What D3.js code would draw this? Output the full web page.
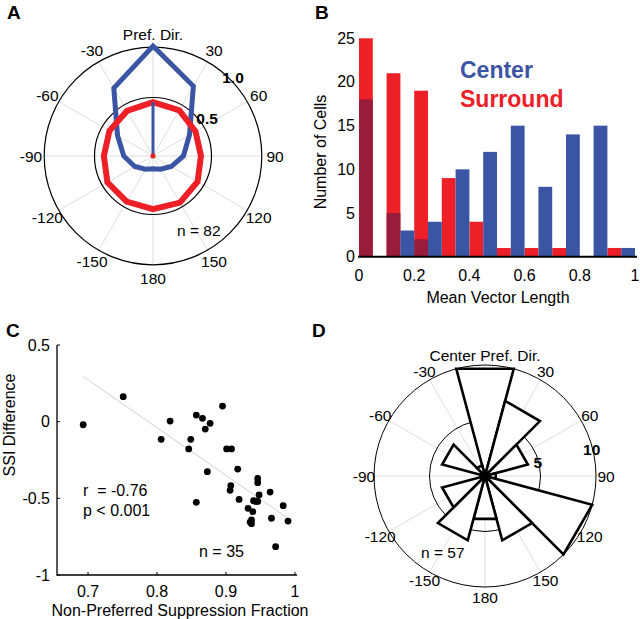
<!DOCTYPE html>
<html><head><meta charset="utf-8">
<script src="https://cdn.jsdelivr.net/npm/d3@7"></script>
<style>
body{margin:0;background:#fff}
text{font-family:"Liberation Sans",Arial,Helvetica,sans-serif;fill:#000}
</style>
</head><body>
<svg id="fig" width="640" height="619"></svg>
<script>
// ---------- Panel A data ----------
const dirAngles = [0,30,60,90,120,150,180,210,240,270,300,330];
const centerTuning   = [0.94,0.69,0.36,0.26,0.18,0.13,0.11,0.13,0.18,0.25,0.35,0.67];
const surroundTuning = [0.46,0.45,0.42,0.41,0.44,0.46,0.455,0.45,0.45,0.42,0.43,0.445];
const centerMeanVector = 0.46;
const surroundMeanVector = 0.02;
const angleLabelsA = ["Pref. Dir.","30","60","90","120","150","180","-150","-120","-90","-60","-30"];
const ringValuesA = [0.5, 0.93];
const ringLabelsA = ["0.5","1.0"];
// ---------- Panel B data ----------
const binStarts = [0,0.1,0.2,0.3,0.4,0.5,0.6,0.7,0.8,0.9];
const surroundCounts = [25,21,19,9,4,1,1,1,0,1];
const centerCounts   = [0,3,4,10,12,15,8,14,15,1];
const overlapCounts  = [18,5,2,0,0,0,0,0,0,0];
const xTicksB = [0,0.2,0.4,0.6,0.8,1];
const yTicksB = [0,5,10,15,20,25];
// ---------- Panel C data ----------
const nonPrefFrac = [0.693,0.751,0.806,0.819,0.846,0.849,0.857,0.866,0.870,0.877,0.895,0.857,0.873,0.901,0.908,0.917,0.907,0.906,0.919,0.932,0.939,0.937,0.937,0.940,0.946,0.946,0.946,0.948,0.964,0.966,0.972,0.983,0.990,0.943,0.935];
const ssiDiff = [-0.02,0.163,-0.115,0.004,-0.178,-0.115,0.043,0.022,-0.048,-0.011,0.102,-0.526,-0.326,-0.178,-0.178,-0.309,-0.417,-0.448,-0.507,-0.565,-0.587,-0.641,-0.665,-0.515,-0.37,-0.398,-0.52,-0.478,-0.459,-0.63,-0.815,-0.548,-0.648,-0.52,-0.655];
const fitX = [0.693,0.99];
const fitY = [0.294,-0.63];
const xTicksC = [0.7,0.8,0.9,1];
const yTicksC = [0.5,0,-0.5,-1];
// ---------- Panel D data ----------
const roseCenters = [0,30,60,90,120,150,180,210,240,270,300,330];
const roseCounts  = [10,7,4,1,10,6,4,6,4,0,4,1];
const angleLabelsD = ["Center Pref. Dir.","30","60","90","120","150","180","-150","-120","-90","-60","-30"];
const ringValuesD = [5,10];
const ringLabelsD = ["5","10"];

const BLUE = "#3b55a5", RED = "#ee2027", DARK = "#9a1c3c", GRID = "#d4d4d4";
const svg = d3.select("#fig");
const rad = d => d*Math.PI/180;
function polarXY(angDeg, r){ return [r*Math.sin(rad(angDeg)), -r*Math.cos(rad(angDeg))]; }

// panel letters
[["A",7,19],["B",315,19],["C",6,337],["D",312,337]].forEach(([t,x,y])=>{
  svg.append("text").attr("x",x).attr("y",y).attr("font-size",19).attr("font-weight","bold").text(t);
});

// ================= Panel A =================
{
  const g = svg.append("g").attr("transform","translate(153,156)");
  const r = d3.scaleLinear().domain([0,1]).range([0,117]);
  const rMax = r(ringValuesA[1]);
  dirAngles.forEach(a=>{
    const [x,y] = polarXY(a, rMax);
    g.append("line").attr("x1",0).attr("y1",0).attr("x2",x).attr("y2",y).attr("stroke",GRID).attr("stroke-width",0.8);
  });
  ringValuesA.forEach(v=>{
    g.append("circle").attr("r",r(v)).attr("fill","none").attr("stroke","#000").attr("stroke-width",1.2);
  });
  const line = d3.lineRadial().angle(d=>rad(d[0])).radius(d=>r(d[1])).curve(d3.curveLinearClosed);
  g.append("path").datum(dirAngles.map((a,i)=>[a,centerTuning[i]])).attr("d",line)
    .attr("fill","none").attr("stroke",BLUE).attr("stroke-width",5).attr("stroke-linejoin","miter");
  g.append("path").datum(dirAngles.map((a,i)=>[a,surroundTuning[i]])).attr("d",line)
    .attr("fill","none").attr("stroke",RED).attr("stroke-width",6).attr("stroke-linejoin","miter");
  g.append("line").attr("x1",0).attr("y1",0).attr("x2",0).attr("y2",-r(centerMeanVector))
    .attr("stroke",BLUE).attr("stroke-width",3);
  g.append("circle").attr("r",2.5).attr("fill",RED);
  g.append("line").attr("x1",0).attr("y1",0).attr("x2",0).attr("y2",-r(surroundMeanVector)).attr("stroke",RED).attr("stroke-width",3);
  dirAngles.forEach((a,i)=>{
    const [x,y] = polarXY(a, 122);
    g.append("text").attr("x",x).attr("y",y).attr("text-anchor","middle").attr("dominant-baseline","central")
      .attr("font-size",15.5).text(angleLabelsA[i]);
  });
  const ringLabAng = [55,45.7], ringLabOff=[7.5,3];
  ringValuesA.forEach((v,i)=>{
    const [x,y] = polarXY(ringLabAng[i], r(v)+ringLabOff[i]);
    g.append("text").attr("x",x).attr("y",y).attr("text-anchor","middle").attr("dominant-baseline","central")
      .attr("font-size",15.5).attr("font-weight","bold").text(ringLabelsA[i]);
  });
  g.append("text").attr("x",24).attr("y",74).attr("dominant-baseline","central").attr("font-size",15.5).text("n = 82");
}

// ================= Panel B =================
{
  const x = d3.scaleLinear().domain([0,1]).range([359,635]);
  const y = d3.scaleLinear().domain([0,25]).range([256.7,38.3]);
  const bw = x(0.05)-x(0);
  const g = svg.append("g");
  g.selectAll(".sr").data(binStarts).enter().append("rect")
    .attr("x",d=>x(d)).attr("width",bw)
    .attr("y",(d,i)=>y(surroundCounts[i])).attr("height",(d,i)=>y(0)-y(surroundCounts[i])).attr("fill",RED);
  g.selectAll(".ov").data(binStarts).enter().append("rect")
    .attr("x",d=>x(d)).attr("width",bw)
    .attr("y",(d,i)=>y(overlapCounts[i])).attr("height",(d,i)=>y(0)-y(overlapCounts[i])).attr("fill",DARK);
  g.selectAll(".ce").data(binStarts).enter().append("rect")
    .attr("x",d=>x(d+0.05)).attr("width",bw)
    .attr("y",(d,i)=>y(centerCounts[i])).attr("height",(d,i)=>y(0)-y(centerCounts[i])).attr("fill",BLUE);
  g.append("line").attr("x1",358).attr("x2",637).attr("y1",y(0)).attr("y2",y(0)).attr("stroke","#000").attr("stroke-width",2);
  yTicksB.forEach(t=>{
    g.append("text").attr("x",355).attr("y",y(t)).attr("text-anchor","end").attr("dominant-baseline","central")
      .attr("font-size",16).text(t);
  });
  xTicksB.forEach(t=>{
    g.append("text").attr("x",x(t)).attr("y",275).attr("text-anchor","middle").attr("dominant-baseline","central")
      .attr("font-size",16).text(t);
  });
  g.append("text").attr("x",498).attr("y",297).attr("text-anchor","middle").attr("dominant-baseline","central")
    .attr("font-size",16).text("Mean Vector Length");
  g.append("text").attr("transform","translate(320,152) rotate(-90)").attr("text-anchor","middle").attr("dominant-baseline","central")
    .attr("font-size",16).text("Number of Cells");
  g.append("text").attr("x",460).attr("y",78.3).attr("font-size",23).attr("font-weight","bold").style("fill",BLUE).text("Center");
  g.append("text").attr("x",460).attr("y",106.7).attr("font-size",23).attr("font-weight","bold").style("fill",RED).text("Surround");
}

// ================= Panel C =================
{
  const x = d3.scaleLinear().domain([0.655,1.003]).range([57,297]);
  const y = d3.scaleLinear().domain([-1,0.5]).range([575,345]);
  const g = svg.append("g");
  g.append("line").attr("x1",x(fitX[0])).attr("y1",y(fitY[0])).attr("x2",x(fitX[1])).attr("y2",y(fitY[1]))
    .attr("stroke","#d0d0d0").attr("stroke-width",1);
  g.selectAll("circle").data(nonPrefFrac).enter().append("circle")
    .attr("cx",d=>x(d)).attr("cy",(d,i)=>y(ssiDiff[i])).attr("r",3.4).attr("fill","#000");
  g.append("path").attr("d",`M${x.range()[0]},${y(0.5)}V${y(-1)}H${x.range()[1]}`).attr("fill","none").attr("stroke","#000").attr("stroke-width",1.3);
  yTicksC.forEach(t=>{
    g.append("line").attr("x1",57).attr("x2",60).attr("y1",y(t)).attr("y2",y(t)).attr("stroke","#000");
    g.append("text").attr("x",50).attr("y",y(t)).attr("text-anchor","end").attr("dominant-baseline","central")
      .attr("font-size",16).text(t);
  });
  xTicksC.forEach(t=>{
    g.append("line").attr("x1",x(t)).attr("x2",x(t)).attr("y1",575).attr("y2",572).attr("stroke","#000");
    g.append("text").attr("x",x(t)).attr("y",591).attr("text-anchor","middle").attr("dominant-baseline","central")
      .attr("font-size",16).text(t);
  });
  g.append("text").attr("x",180).attr("y",610).attr("text-anchor","middle").attr("dominant-baseline","central")
    .attr("font-size",16).text("Non-Preferred Suppression Fraction");
  g.append("text").attr("transform","translate(9,425) rotate(-90)").attr("text-anchor","middle").attr("dominant-baseline","central")
    .attr("font-size",16).text("SSI Difference");
  g.append("text").attr("x",83).attr("y",490).attr("dominant-baseline","central").attr("font-size",16).style("white-space","pre").text("r  = -0.76");
  g.append("text").attr("x",83).attr("y",510).attr("dominant-baseline","central").attr("font-size",16).text("p < 0.001");
  g.append("text").attr("x",199).attr("y",551).attr("dominant-baseline","central").attr("font-size",16).text("n = 35");
}

// ================= Panel D =================
{
  const g = svg.append("g").attr("transform","translate(485,476)");
  const r = d3.scaleLinear().domain([0,10]).range([0,111]);
  const rMax = r(10);
  roseCenters.forEach(a=>{
    const [x,y] = polarXY(a, rMax);
    g.append("line").attr("x1",0).attr("y1",0).attr("x2",x).attr("y2",y).attr("stroke",GRID).attr("stroke-width",0.8);
  });
  ringValuesD.forEach(v=>{
    g.append("circle").attr("r",r(v)).attr("fill","none").attr("stroke","#000").attr("stroke-width",1);
  });
  const wedge = d3.lineRadial().angle(d=>rad(d[0])).radius(d=>d[1]).curve(d3.curveLinearClosed);
  roseCenters.forEach((a,i)=>{
    if(roseCounts[i]<=0) return;
    const pts = [[0,0],[a-15,r(roseCounts[i])],[a+15,r(roseCounts[i])]];
    g.append("path").datum(pts).attr("d",wedge).attr("fill","#fff").attr("stroke","#000")
      .attr("stroke-width",2.6).attr("stroke-linejoin","miter");
  });
  roseCenters.forEach((a,i)=>{
    const [x,y] = polarXY(a, 121);
    g.append("text").attr("x",x).attr("y",y).attr("text-anchor","middle").attr("dominant-baseline","central")
      .attr("font-size",15.5).text(angleLabelsD[i]);
  });
  ringValuesD.forEach((v,i)=>{
    const [x,y] = polarXY(76, r(v)-1);
    g.append("text").attr("x",x).attr("y",y).attr("text-anchor","middle").attr("dominant-baseline","central")
      .attr("font-size",15.5).attr("font-weight","bold").text(ringLabelsD[i]);
  });
  g.append("text").attr("x",-64).attr("y",76).attr("dominant-baseline","central").attr("font-size",15.5).text("n = 57");
}
</script>
</body></html>
